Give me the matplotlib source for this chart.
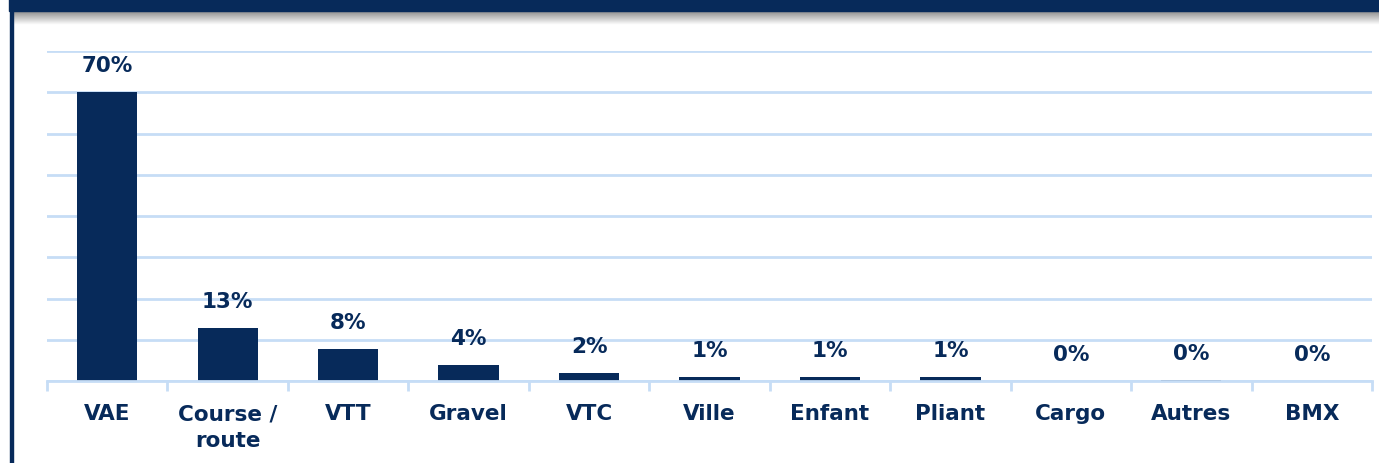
import numpy as np
import matplotlib.pyplot as plt
from matplotlib.patches import Rectangle

categories = ['VAE', 'Course /\nroute', 'VTT', 'Gravel', 'VTC', 'Ville',
              'Enfant', 'Pliant', 'Cargo', 'Autres', 'BMX']
shares = [70, 12.8, 7.7, 3.9, 1.9, 1.0, 1.0, 1.0, 0.0, 0.2, 0.0]
share_labels = ['70%', '13%', '8%', '4%', '2%', '1%', '1%', '1%', '0%', '0%', '0%']

navy = '#072a5a'
grid_blue = '#c6ddf6'

fig = plt.figure(figsize=(13.79, 4.64), dpi=100)
W, H = 1379, 464

# decoration: header band with shadow, left border
deco = fig.add_axes([0, 0, 1, 1])
deco.set_xlim(0, W)
deco.set_ylim(H, 0)
deco.axis('off')
shadow = np.linspace(0.45, 0.0, 30)[:, None] * np.ones((1, 10))
deco.imshow(np.dstack([np.zeros_like(shadow)] * 3 + [shadow]),
            extent=(12, W, 12 + 14, 12), aspect='auto', interpolation='bilinear')
deco.add_patch(Rectangle((9, 0), W - 9, 12, color=navy))
deco.add_patch(Rectangle((10, 12), 3, H - 12, color=navy))

ax = fig.add_axes([47 / W, (H - 382) / H, (1372 - 47) / W, (382 - 52) / H])
x = np.arange(len(categories))
ax.bar(x, shares, width=0.5, color=navy, zorder=3)
for xi, v, lab in zip(x, shares, share_labels):
    ax.annotate(lab, (xi, v), xytext=(0, 17), textcoords='offset pixels',
                ha='center', va='bottom', fontsize=15.5, fontweight='bold',
                color=navy, annotation_clip=False)

ax.set_xlim(-0.5, len(categories) - 0.5)
ax.set_ylim(0, 80)
ax.set_yticks(np.arange(0, 81, 10))
ax.yaxis.grid(True, color=grid_blue, linewidth=2, zorder=0)
ax.tick_params(axis='y', left=False, labelleft=False)
for s in ['top', 'right', 'left']:
    ax.spines[s].set_visible(False)
ax.spines['bottom'].set_color(grid_blue)
ax.spines['bottom'].set_linewidth(2)
ax.spines['bottom'].set_zorder(4)

ax.set_xticks(np.arange(-0.5, len(categories), 1), minor=False)
ax.set_xticklabels([])
ax.tick_params(axis='x', which='major', length=7, width=2, color=grid_blue)
ax.set_xticks(x, minor=True)
ax.set_xticklabels(categories, minor=True, fontsize=15.5, fontweight='bold',
                   color=navy, linespacing=1.45)
ax.tick_params(axis='x', which='minor', length=0, pad=16)
for t in ax.get_xticklabels(minor=True):
    t.set_verticalalignment('top')

fig.savefig('out.png', dpi=100)
